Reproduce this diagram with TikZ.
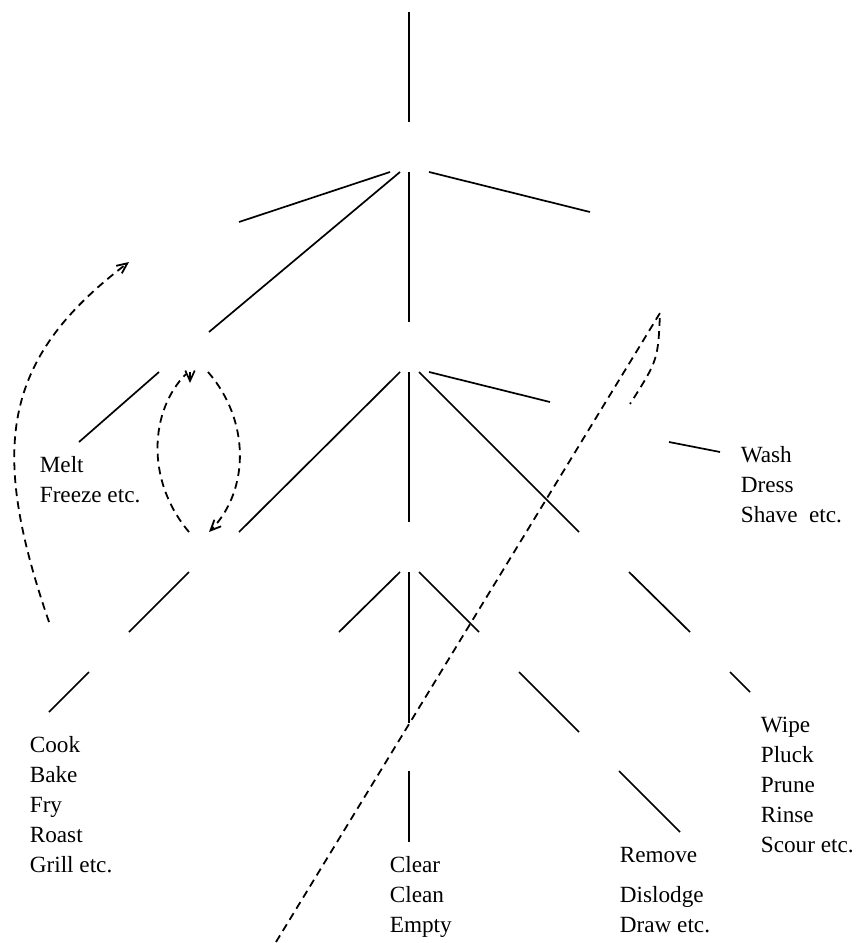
\documentclass[tikz,border=0pt]{standalone}
\usepackage{fontspec}
\setmainfont{Liberation Serif}
\usetikzlibrary{arrows.meta}

\begin{document}
\begin{tikzpicture}[x=0.53pt, y=-0.53pt, line width=0.9pt,
  verbs/.style={anchor=base west, inner sep=0pt, align=left,
    font=\fontsize{12.3}{15.9}\selectfont},
  move/.style={dash pattern=on 4.1pt off 2.8pt, line width=0.95pt},
  tip/.style={-{Straight Barb[length=5.5pt, width=5pt]}}]
  \useasboundingbox (0,0) rectangle (858,943);

  % Branches of the tree (the slots between them stay blank)
  \foreach \xa/\ya/\xb/\yb in {409/12/409/122,
      390/172/239/222, 400/172/209/332, 409/172/409/322, 429/172/590/212,
      159/372/79/442, 400/372/239/532, 409/372/409/522, 419/372/579/532,
      429/372/550/402, 669/442/720/452,
      189/572/129/632, 89/672/49/712,
      400/572/339/632, 409/572/409/723, 419/572/479/632,
      519/672/579/732, 619/771/680/832, 409/771/409/842,
      629/572/690/632, 730/672/750/692}
    \draw (\xa,\ya) -- (\xb,\yb);

  % Verb lists (placed at the baseline of their last line)
  \node[verbs] (melt) at (39,502) {Melt\\Freeze etc.};
  \node[verbs] (wash) at (740,522) {Wash\\Dress\\Shave\ \ etc.};
  \node[verbs] (cook) at (29,872) {Cook\\Bake\\Fry\\Roast\\Grill etc.};
  \node[verbs] (wipe) at (760,852) {Wipe\\Pluck\\Prune\\Rinse\\Scour etc.};
  \node[verbs] (clear) at (389,932) {Clear\\Clean\\Empty};
  \node[verbs] (remove) at (619,932) {Remove\\[5.3pt]Dislodge\\Draw etc.};

  % Dashed moves
  \draw[move, tip] (49,622) .. controls (-10,450) and (0,360) .. (129,262);
  \draw[move, tip] (208,372) .. controls (250,420) and (250,490) .. (209,532);
  \draw[move] (189,532) .. controls (145,480) and (150,410) .. (186,374);
  \draw[tip] (190,372) -- (190,383);
  \draw[move] (276,942) -- (660,313) .. controls (658,360) .. (630,404);
\end{tikzpicture}
\end{document}
